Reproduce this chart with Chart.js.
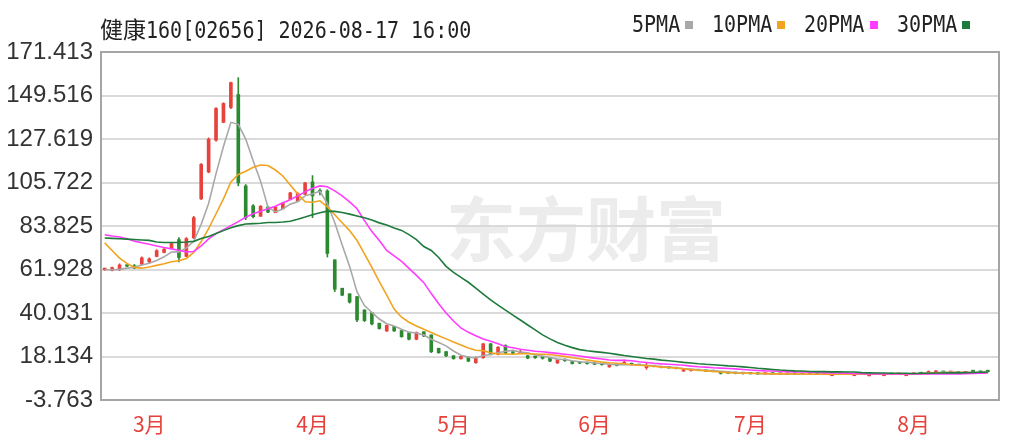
<!DOCTYPE html>
<html>
<head>
<meta charset="utf-8">
<title>健康160</title>
<script src="https://cdn.jsdelivr.net/npm/chart.js@4.4.1/dist/chart.umd.min.js"></script>
<style>
  html, body { margin: 0; padding: 0; background: #fff; }
  #box { position: relative; width: 1018px; height: 440px; overflow: hidden; }
  #mark { position: absolute; left: 446px; top: 184px; font: bold 70px "Noto Sans CJK SC"; line-height: 84px; color: #ececec; white-space: nowrap; }
  #chart { position: absolute; left: 0; top: 0; }
  #title { position: absolute; left: 100px; top: 11px; color: #222; white-space: nowrap; line-height: 30px; }
  #title .c { font: 23px "Noto Sans CJK SC"; }
  .m { display: inline-block; font: 23px "DejaVu Sans Mono"; transform: scaleX(0.87); transform-origin: 0 50%; }
  .lg { position: absolute; top: 11px; color: #222; white-space: nowrap; line-height: 30px; }
  .sq { position: absolute; top: 21px; width: 8px; height: 8px; }
</style>
</head>
<body>
<div id="box">
  <div id="mark">东方财富</div>
  <canvas id="chart" width="1018" height="440"></canvas>
  <div id="title"><span class="c">健康</span><span class="m">160[02656] 2026-08-17 16:00</span></div>
</div>
<script>
// 月份刻度（交易日序号）
const monthIdx = [6, 28, 47, 66, 87, 109];
const monthNames = ['3月', '4月', '5月', '6月', '7月', '8月'];
const yTicks = [-3.763, 18.134, 40.031, 61.928, 83.825, 105.722, 127.619, 149.516, 171.413];

// K线
const opens = [
  61.9, 61.5, 61.8, 63.8, 63.8, 64.5, 65.8, 68.5, 70.5, 72.5,
  77.0, 68.5, 77.8, 97.5, 111.0, 127.0, 136.0, 143.5, 150.0, 104.0,
  94.0, 88.7, 93.4, 90.5, 92.5, 97.2, 96.3, 99.8, 106.0, 101.8,
  101.5, 66.8, 52.5, 49.7, 48.3, 41.6, 40.2, 34.9, 31.0, 33.2,
  31.2, 30.1, 26.8, 30.6, 29.0, 22.3, 20.6, 18.5, 17.0, 17.7,
  15.0, 17.5, 24.5, 19.2, 23.8, 20.5, 19.8, 18.5, 17.8, 17.5,
  17.5, 14.9, 16.6, 15.6, 15.0, 14.8, 14.8, 14.2, 12.9, 14.0,
  14.4, 14.6, 14.0, 12.5, 13.3, 13.0, 12.5, 12.4, 10.8, 11.0,
  11.3, 11.0, 10.7, 10.5, 9.8, 9.7, 9.6, 9.5, 9.4, 9.3,
  9.4, 9.3, 9.2, 9.3, 9.2, 9.1, 9.2, 9.1, 9.2, 9.2,
  9.1, 9.2, 9.2, 9.1, 9.1, 9.2, 9.2, 9.1, 9.2, 9.2,
  9.6, 9.6, 10.2, 10.4, 10.1, 10.2, 9.9, 10.9, 10.4, 10.9
];
const highs = [
  62.5, 63.2, 64.8, 64.2, 64.5, 68.3, 67.8, 71.9, 72.5, 75.4,
  78.0, 78.0, 88.7, 115.3, 128.2, 143.4, 145.9, 156.3, 158.5, 104.7,
  94.6, 94.1, 93.6, 93.6, 95.7, 100.8, 100.6, 105.8, 109.2, 102.5,
  102.1, 66.8, 52.5, 49.7, 48.3, 41.6, 40.2, 34.9, 34.0, 33.2,
  31.2, 30.1, 30.5, 30.6, 29.0, 22.3, 20.6, 18.6, 18.5, 18.0,
  18.0, 24.8, 24.8, 23.1, 24.0, 21.2, 21.4, 18.8, 18.5, 17.9,
  17.6, 16.7, 17.0, 15.8, 15.4, 15.2, 15.0, 14.5, 14.3, 14.2,
  16.4, 14.8, 14.2, 14.7, 13.5, 13.1, 12.8, 12.5, 11.8, 11.6,
  11.4, 11.1, 10.9, 10.6, 10.0, 9.9, 9.8, 9.7, 9.6, 9.5,
  9.5, 9.4, 9.4, 9.4, 9.3, 9.3, 9.3, 9.3, 9.3, 9.3,
  9.3, 9.3, 9.3, 9.2, 9.3, 9.3, 9.3, 9.3, 9.3, 9.8,
  9.9, 10.9, 11.0, 10.6, 10.4, 10.3, 10.2, 11.0, 10.6, 11.0
];
const lows = [
  61.5, 61.2, 61.4, 63.3, 62.3, 64.2, 65.3, 68.3, 70.3, 72.4,
  65.8, 68.3, 77.5, 97.1, 110.6, 126.5, 135.8, 142.9, 104.0, 87.0,
  87.9, 88.7, 90.5, 90.5, 92.4, 97.1, 96.2, 99.6, 88.0, 99.5,
  68.2, 50.8, 48.7, 45.0, 35.7, 35.7, 34.0, 31.9, 30.7, 30.7,
  27.8, 26.5, 26.5, 28.1, 20.1, 19.8, 18.0, 16.8, 16.8, 15.5,
  14.7, 17.2, 18.9, 18.9, 19.4, 19.5, 19.6, 17.0, 17.2, 16.8,
  15.5, 14.6, 15.7, 14.3, 14.5, 14.3, 14.0, 13.8, 12.7, 13.4,
  14.3, 13.9, 13.5, 11.7, 12.9, 12.4, 12.2, 11.9, 10.6, 10.8,
  10.9, 10.6, 10.4, 9.3, 9.5, 9.4, 9.3, 9.3, 9.2, 9.2,
  9.2, 9.1, 9.1, 9.1, 9.0, 9.0, 9.0, 9.0, 9.1, 9.0,
  9.0, 9.1, 9.0, 9.0, 9.0, 9.1, 9.0, 9.0, 9.1, 9.1,
  9.4, 9.5, 10.2, 10.0, 9.9, 9.8, 9.7, 9.9, 10.1, 10.2
];
const closes = [
  62.2, 62.9, 64.2, 63.6, 62.6, 67.8, 67.3, 71.4, 72.2, 75.0,
  68.0, 77.5, 88.0, 114.8, 127.5, 143.0, 145.5, 156.0, 105.5, 88.0,
  88.5, 93.8, 90.8, 93.3, 95.4, 100.5, 100.2, 105.5, 99.0, 101.0,
  70.0, 52.0, 49.0, 45.5, 36.5, 36.2, 34.5, 32.2, 33.8, 31.0,
  28.1, 26.8, 30.2, 28.4, 20.5, 20.0, 18.5, 17.0, 18.2, 15.8,
  17.7, 24.5, 19.3, 22.8, 19.8, 19.8, 20.2, 17.3, 17.5, 17.2,
  15.8, 16.4, 16.0, 14.6, 14.8, 14.5, 14.2, 14.0, 14.0, 13.6,
  14.8, 14.0, 13.6, 13.4, 13.0, 12.5, 12.4, 12.0, 11.6, 11.4,
  11.0, 10.7, 10.5, 9.6, 9.7, 9.6, 9.5, 9.4, 9.3, 9.4,
  9.3, 9.2, 9.3, 9.2, 9.1, 9.2, 9.1, 9.2, 9.2, 9.1,
  9.2, 9.2, 9.1, 9.1, 9.2, 9.2, 9.1, 9.2, 9.2, 9.6,
  9.5, 10.6, 10.8, 10.1, 10.2, 9.9, 10.0, 10.5, 10.2, 10.5
];

// 均线
const ma5 = [
  61.8, 61.8, 62.0, 62.6, 63.1, 64.2, 65.1, 66.5, 68.3, 70.7,
  70.8, 72.8, 76.1, 84.7, 95.2, 110.2, 123.8, 136.0, 135.0, 127.6,
  116.7, 106.4, 93.3, 90.9, 92.4, 94.8, 96.0, 99.0, 100.1, 101.3,
  95.1, 85.5, 74.2, 63.5, 50.6, 43.8, 40.3, 37.0, 34.6, 33.5,
  31.9, 30.4, 30.0, 28.9, 26.8, 25.2, 23.5, 20.9, 18.8, 17.9,
  17.4, 18.6, 19.1, 20.0, 20.8, 21.2, 20.4, 20.0, 18.9, 18.4,
  17.6, 16.8, 16.6, 16.0, 15.5, 15.3, 14.9, 14.6, 14.2, 14.0,
  14.0, 14.0, 13.9, 13.7, 13.5, 13.1, 12.8, 12.5, 12.1, 11.8,
  11.5, 11.2, 11.0, 10.7, 10.4, 10.1, 9.9, 9.7, 9.6, 9.5,
  9.4, 9.3, 9.3, 9.2, 9.2, 9.2, 9.2, 9.2, 9.2, 9.2,
  9.2, 9.2, 9.2, 9.2, 9.2, 9.2, 9.2, 9.2, 9.2, 9.3,
  9.5, 9.8, 10.1, 10.2, 10.3, 10.2, 10.1, 10.1, 10.2, 10.3
];
const ma10 = [
  75.3, 71.5, 67.7, 65.0, 63.0, 62.6, 63.2, 64.0, 64.8, 65.8,
  66.3, 67.5, 70.5, 76.0, 82.5, 90.0, 97.5, 106.0, 109.8, 111.4,
  113.4, 114.5, 114.3, 112.0, 109.0, 104.5, 100.0, 96.0, 95.8, 96.5,
  93.5, 89.5, 85.5, 81.5, 76.5, 69.8, 63.0, 55.8, 49.0, 42.0,
  37.9, 35.4, 33.5, 31.8, 30.2, 28.6, 27.0, 25.4, 23.9, 22.4,
  21.3, 21.1, 20.0, 19.4, 19.4, 19.3, 19.5, 19.5, 19.4, 19.3,
  19.1, 18.6, 18.2, 17.5, 17.0, 16.4, 15.8, 15.4, 15.0, 14.7,
  14.5, 14.0, 13.7, 13.5, 13.2, 12.8, 12.6, 12.3, 12.0, 11.5,
  11.2, 10.9, 10.6, 10.3, 10.0, 9.8, 9.7, 9.7, 9.6, 9.5,
  9.4, 9.4, 9.3, 9.3, 9.3, 9.2, 9.2, 9.2, 9.2, 9.2,
  9.2, 9.2, 9.2, 9.2, 9.2, 9.2, 9.2, 9.2, 9.2, 9.3,
  9.4, 9.6, 9.8, 9.9, 10.0, 10.0, 10.0, 9.9, 9.9, 10.0
];
const ma20 = [
  79.4, 78.8, 78.3, 77.4, 76.2, 75.4, 74.6, 73.8, 73.0, 72.3,
  71.6, 70.8, 71.0, 73.8, 77.3, 80.0, 82.0, 84.0, 86.0, 88.3,
  90.0, 91.2, 92.5, 93.8, 95.5, 97.0, 99.0, 101.0, 102.8, 104.0,
  103.6, 101.5, 99.0, 96.0, 92.5, 86.5, 81.0, 76.5, 71.5, 68.8,
  66.0, 62.5, 59.0, 55.3, 49.8, 44.7, 40.0, 36.0, 32.5, 30.3,
  28.6, 27.0, 25.8, 24.6, 23.2, 22.5, 21.8, 21.3, 20.8, 20.5,
  20.1, 19.7, 19.3, 18.9, 18.4, 17.8, 17.3, 16.9, 16.4, 16.2,
  16.2, 16.0, 15.5, 15.1, 14.7, 14.4, 14.2, 14.0, 13.7, 13.3,
  13.0, 12.8, 12.5, 12.3, 12.1, 11.9, 11.6, 11.3, 11.1, 10.9,
  10.8, 10.6, 10.5, 10.4, 10.3, 10.2, 10.1, 10.0, 9.9, 9.8,
  9.7, 9.6, 9.5, 9.4, 9.4, 9.3, 9.3, 9.3, 9.3, 9.3,
  9.3, 9.3, 9.3, 9.4, 9.4, 9.4, 9.5, 9.6, 9.7, 9.8
];
const ma30 = [
  77.8, 77.6, 77.4, 77.2, 77.0, 76.8, 76.6, 75.8, 75.5, 75.5,
  75.6, 75.8, 76.1, 77.5, 78.5, 80.0, 81.5, 83.0, 84.0, 84.8,
  85.0, 85.2, 85.6, 85.6, 85.8, 86.2, 87.2, 88.3, 89.5, 90.5,
  91.3, 91.2, 90.6, 89.8, 88.9, 88.0, 86.8, 85.4, 84.3, 82.8,
  81.6, 79.5, 77.0, 73.5, 71.5, 68.0, 63.5, 60.5, 58.0, 55.5,
  52.5, 49.5, 46.6, 44.0, 41.5, 39.0, 36.5, 34.0, 31.5, 29.0,
  27.0, 25.2, 23.8, 22.6, 21.6, 21.0, 20.6, 20.2, 19.8, 19.2,
  18.6, 18.1, 17.6, 17.1, 16.8, 16.3, 16.0, 15.6, 15.2, 14.9,
  14.5, 14.2, 14.0, 13.7, 13.4, 13.2, 12.9, 12.6, 12.2, 11.9,
  11.6, 11.3, 11.1, 10.9, 10.8, 10.6, 10.5, 10.5, 10.4, 10.4,
  10.3, 10.3, 10.0, 9.9, 9.8, 9.8, 9.7, 9.7, 9.7, 9.6,
  9.7, 9.7, 9.8, 9.8, 9.9, 9.9, 10.0, 10.1, 10.2, 10.3
];
const maNames = ['5PMA', '10PMA', '20PMA', '30PMA'];
const maColors = ['#a8a8a8', '#f2a31f', '#ff3cff', '#1e7b3c'];
const maData = [ma5, ma10, ma20, ma30];

// 图例：文字在前，色块在后
var lx = 632;
maNames.forEach(function (name, k) {
  var t = document.createElement('div');
  t.className = 'lg';
  t.style.left = lx + 'px';
  t.innerHTML = '<span class="m">' + name + '</span>';
  document.getElementById('box').appendChild(t);
  var sqx = lx + name.length * 12.05 + 5;
  var s = document.createElement('div');
  s.className = 'sq';
  s.style.left = sqx + 'px';
  s.style.background = maColors[k];
  document.getElementById('box').appendChild(s);
  lx = sqx + 8 + 19;
});

var slots = closes.length + 1; // 右侧留一个空位
var labels = [];
for (var i = 0; i < slots; i++) labels.push(String(i));

var candleColor = function (ctx) {
  var i = ctx.dataIndex;
  return closes[i] >= opens[i] ? '#e8423c' : '#2b8a2f';
};
var bodies = opens.map(function (o, i) { return [Math.min(o, closes[i]), Math.max(o, closes[i])]; });
var wicks = lows.map(function (l, i) { return [l, highs[i]]; });

var lineSets = maData.map(function (d, k) {
  return {
    type: 'line',
    label: maNames[k],
    data: d,
    borderColor: maColors[k],
    borderWidth: 1.6,
    pointRadius: 0,
    fill: false,
    tension: 0,
    order: 4 - k
  };
});

//外框
var frame = {
  id: 'frame',
  afterDraw: function (c) {
    var a = c.chartArea, x = c.ctx;
    x.save();
    x.strokeStyle = '#a5a5a5';
    x.lineWidth = 2;
    x.strokeRect(a.left, a.top, a.right - a.left, a.bottom - a.top);
    x.restore();
  }
};

new Chart(document.getElementById('chart'), {
  type: 'bar',
  data: {
    labels: labels,
    datasets: lineSets.concat([
      { label: 'body', data: bodies, backgroundColor: candleColor, barThickness: 3, minBarLength: 1.5, grouped: false, borderWidth: 0, order: 5 },
      { label: 'wick', data: wicks, backgroundColor: candleColor, barThickness: 1, grouped: false, borderWidth: 0, order: 6 }
    ])
  },
  options: {
    responsive: false,
    animation: false,
    layout: { padding: { top: 52, right: 19, left: 0, bottom: 0 } },
    plugins: { legend: { display: false }, tooltip: { enabled: false } },
    scales: {
      x: {
        offset: true,
        afterFit: function (s) { s.height = 40; },
        grid: {
          offset: false,
          drawTicks: false,
          lineWidth: 1.5,
          color: function (c) { return monthIdx.indexOf(c.index) >= 0 ? '#c8c8c8' : 'rgba(0,0,0,0)'; }
        },
        border: { display: false, dash: [5, 4] },
        ticks: {
          autoSkip: false,
          maxRotation: 0,
          padding: 11,
          color: '#e8403a',
          font: { family: '"Noto Sans CJK SC"', size: 21 },
          callback: function (v, i) {
            var k = monthIdx.indexOf(i);
            return k < 0 ? null : monthNames[k];
          }
        }
      },
      y: {
        min: yTicks[0],
        max: yTicks[yTicks.length - 1],
        afterBuildTicks: function (s) { s.ticks = yTicks.map(function (v) { return { value: v }; }); },
        afterFit: function (s) { s.width = 101; },
        grid: { color: '#dadada', lineWidth: 2, drawTicks: false },
        border: { display: false },
        ticks: {
          color: '#333',
          padding: 8,
          font: { family: 'Liberation Sans', size: 24 },
          callback: function (v) { return v.toFixed(3); }
        }
      }
    }
  },
  plugins: [frame]
});
</script>
</body>
</html>
